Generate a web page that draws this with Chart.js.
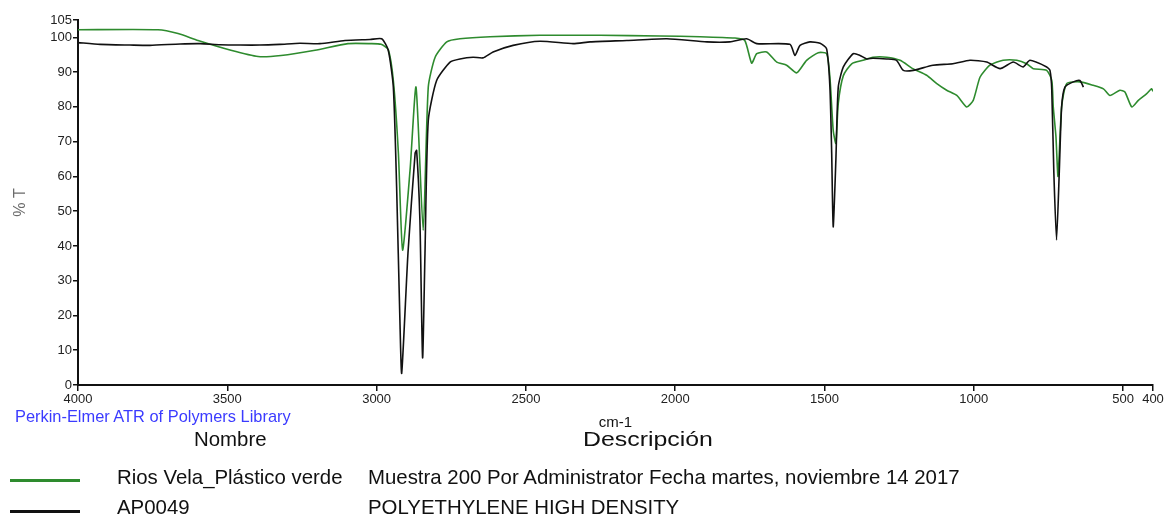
<!DOCTYPE html>
<html>
<head>
<meta charset="utf-8">
<script src="https://cdn.jsdelivr.net/npm/chart.js@4.4.1/dist/chart.umd.min.js"></script>
<style>
    body { margin: 0; background: #fff; font-family: "Liberation Sans", Arial, sans-serif; }
    #wrap { position: relative; width: 1173px; height: 520px; overflow: hidden; }
    #chartBox { position: absolute; left: 0; top: 0; width: 1173px; height: 440px; }
    .txt { position: absolute; white-space: nowrap; color: #111; line-height: 1; font-size: 20.4px; }
    .swatch { position: absolute; height: 3px; width: 70px; left: 10px; }
</style>
</head>
<body>
<div id="wrap">
    <div id="chartBox"><canvas id="irChart"></canvas></div>
    <div class="txt" style="left:15px; top:408px; font-size:16.4px; color:#3b3bff;">Perkin-Elmer ATR of Polymers Library</div>
    <div class="txt" style="left:194px; top:429px;">Nombre</div>
    <div class="txt" style="left:583px; top:429px; transform:scaleX(1.22); transform-origin:left;">Descripción</div>
    <div class="swatch" style="top:479px; background:#2e8b2e;"></div>
    <div class="txt" style="left:117px; top:467px;">Rios Vela_Plástico verde</div>
    <div class="txt" style="left:368px; top:467px;">Muestra 200 Por Administrator Fecha martes, noviembre 14 2017</div>
    <div class="swatch" style="top:510px; background:#111;"></div>
    <div class="txt" style="left:117px; top:497px;">AP0049</div>
    <div class="txt" style="left:368px; top:497px;">POLYETHYLENE HIGH DENSITY</div>
</div>
<script>
// axis ticks
const xTicks = [4000, 3500, 3000, 2500, 2000, 1500, 1000, 500, 400];
const yTicks = [0, 10, 20, 30, 40, 50, 60, 70, 80, 90, 100, 105];

// sample spectrum (green), wavenumber cm-1 and %T
const sampleWn = [4000, 3732, 3665, 3598, 3488, 3397, 3320, 3206, 3096, 3019, 2985, 2961, 2944, 2927, 2913,
    2888, 2868, 2844, 2827, 2804, 2765, 2721, 2620, 2453, 2252, 2051, 1917, 1800, 1767, 1744, 1727, 1694,
    1660, 1627, 1593, 1560, 1521, 1493, 1482, 1471, 1462, 1454, 1437, 1409, 1371, 1338, 1292, 1247, 1204,
    1158, 1124, 1091, 1057, 1024, 1002, 979, 946, 902, 856, 823, 801, 756, 739, 734, 725, 718, 706, 689,
    645, 600, 566, 544, 511, 494, 471, 449, 421, 405, 400];
const sampleT = [102.2, 102.2, 101.1, 99.1, 96.3, 94.5, 94.8, 96.3, 98.2, 98.2, 98.0, 96.5, 87.6, 66.6, 38.8,
    61.8, 85.7, 44.5, 85.7, 94.3, 98.7, 99.6, 100.2, 100.6, 100.6, 100.4, 100.2, 99.8, 99.1, 92.6, 95.3, 95.8,
    92.9, 92.0, 89.8, 93.4, 95.6, 95.3, 88.6, 73.3, 69.5, 81.0, 89.0, 92.4, 93.4, 94.3, 94.3, 93.4, 91.0,
    89.1, 86.7, 84.8, 83.3, 80.0, 81.9, 88.6, 92.0, 93.4, 93.4, 92.4, 91.0, 90.5, 87.6, 80.0, 71.4, 60.0, 80.0, 86.7,
    87.2, 86.2, 85.2, 83.3, 84.8, 84.3, 80.0, 81.9, 83.8, 85.2, 84.5];

// library reference AP0049 (black)
const refWn = [4000, 3926, 3826, 3759, 3658, 3591, 3524, 3457, 3391, 3324, 3257, 3190, 3106, 3022, 2983,
    2961, 2944, 2933, 2922, 2916, 2895, 2871, 2866, 2855, 2846, 2838, 2827, 2799, 2754, 2721, 2677, 2644,
    2610, 2543, 2453, 2342, 2285, 2162, 2028, 1894, 1817, 1761, 1727, 1616, 1599, 1582, 1549, 1515, 1493,
    1482, 1476, 1471, 1462, 1454, 1437, 1404, 1381, 1359, 1338, 1292, 1259, 1236, 1203, 1137, 1070, 1013,
    957, 912, 868, 835, 812, 756, 745, 739, 732, 723, 714, 706, 695, 667, 645, 633];
const refT = [98.5, 98.0, 97.8, 97.7, 98.1, 98.2, 97.9, 97.8, 97.8, 98.0, 98.3, 98.2, 99.1, 99.4, 99.6,
    96.3, 85.7, 57.0, 18.7, 3.4, 37.9, 66.7, 67.5, 47.4, 7.8, 37.9, 76.1, 87.6, 92.9, 93.8, 94.3, 94.1,
    95.8, 97.7, 98.9, 98.2, 98.7, 99.1, 99.6, 98.7, 98.7, 99.6, 98.2, 98.0, 94.8, 97.7, 98.7, 98.3, 96.7,
    85.7, 66.6, 45.5, 64.7, 85.7, 91.5, 95.3, 94.8, 93.8, 94.0, 93.8, 93.4, 90.5, 90.5, 92.0, 92.4, 93.4,
    92.9, 91.0, 92.9, 91.5, 93.4, 91.5, 90.5, 84.8, 60.9, 41.7, 60.9, 80.0, 85.7, 87.2, 87.6, 85.7];

const toPoints = (xs, ys) => xs.map((x, i) => ({ x: x, y: ys[i] }));

const tickFont = { family: '"Liberation Sans", Arial, sans-serif', size: 13 };

new Chart(document.getElementById('irChart'), {
    type: 'line',
    data: {
        datasets: [{
            label: 'Rios Vela_Plástico verde',
            data: toPoints(sampleWn, sampleT),
            borderColor: '#2e8b2e',
            borderWidth: 1.6,
            pointRadius: 0,
            tension: 0.2,
            order: 2
        }, {
            label: 'AP0049',
            data: toPoints(refWn, refT),
            borderColor: '#111111',
            borderWidth: 1.6,
            pointRadius: 0,
            tension: 0.2,
            order: 1
        }]
    },
    options: {
        responsive: true,
        maintainAspectRatio: false,
        animation: false,
        layout: { padding: { top: 20, right: 20, left: 0, bottom: 0 } },
        plugins: {
            legend: { display: false },
            tooltip: { enabled: false }
        },
        scales: {
            x: {
                type: 'linear',
                reverse: true,
                min: 400,
                max: 4000,
                afterBuildTicks: (axis) => { axis.ticks = xTicks.map(v => ({ value: v })); },
                afterFit: (axis) => { axis.height = 55; },
                grid: { drawOnChartArea: false, drawTicks: true, tickLength: 6, color: '#111', lineWidth: 1.5 },
                border: { display: true, color: '#111', width: 2 },
                ticks: { color: '#222', font: tickFont, padding: 1, maxRotation: 0, autoSkip: false,
                    callback: (v) => String(v) },
                title: { display: true, text: 'cm-1', color: '#111', font: { size: 15 }, padding: { top: 0, bottom: 8 } }
            },
            y: {
                min: 0,
                max: 105,
                afterBuildTicks: (axis) => { axis.ticks = yTicks.map(v => ({ value: v })); },
                afterFit: (axis) => { axis.width = 78; },
                grid: { drawOnChartArea: false, drawTicks: true, tickLength: 5, color: '#111', lineWidth: 1.5 },
                border: { display: true, color: '#111', width: 2 },
                ticks: { color: '#222', font: tickFont, padding: 1, autoSkip: false,
                    callback: (v) => String(v) },
                title: { display: true, text: '% T', color: '#6b6b6b', font: { size: 16 }, padding: { top: 11, bottom: 0 } }
            }
        }
    }
});
</script>
</body>
</html>
